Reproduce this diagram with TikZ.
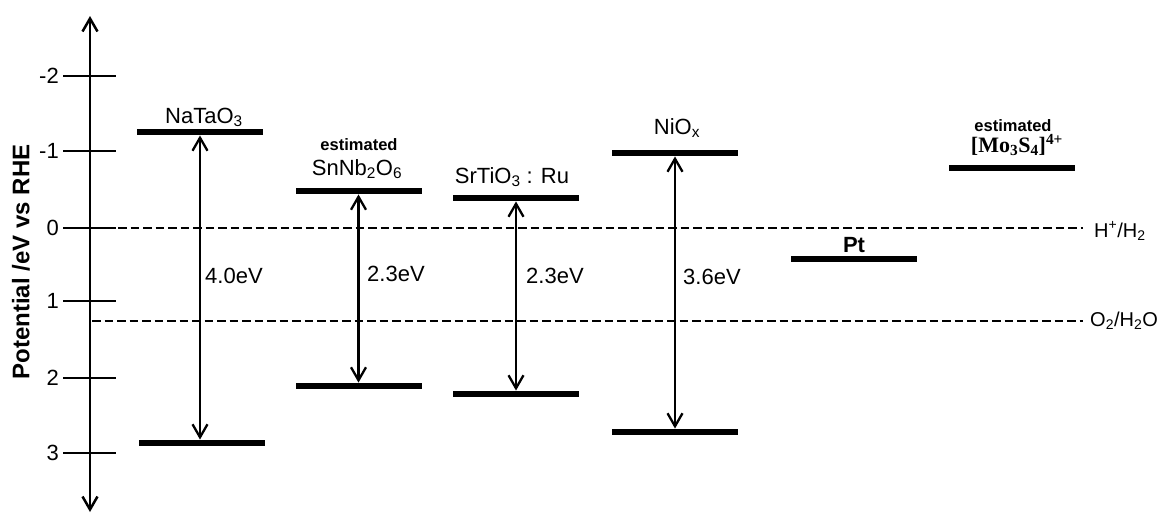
\documentclass[tikz,border=0pt]{standalone}
\usepackage{fontspec}
\setmainfont{Liberation Sans}
\newfontfamily\serifbold{Liberation Serif}
\usetikzlibrary{arrows.meta}
\begin{document}
\begin{tikzpicture}[x=1pt,y=-1pt,
  bar/.style={fill=black,draw=none,minimum width=126pt,minimum height=6.5pt,inner sep=0pt},
  axline/.style={line width=2.5pt},
  bothtips/.style={line width=2.3pt,{Straight Barb[length=13pt,width=15pt]}-{Straight Barb[length=13pt,width=15pt]}},
  lvl/.style={line width=2.3pt,dash pattern=on 8.5pt off 4pt},
  ticklab/.style={anchor=east,font=\fontsize{22}{24}\selectfont,inner sep=0pt},
  mat/.style={anchor=base,font=\fontsize{22}{24}\selectfont,inner sep=0pt},
  est/.style={font=\bfseries\fontsize{16.5}{18}\selectfont,inner sep=0pt},
  evlab/.style={anchor=base west,font=\fontsize{22}{24}\selectfont,inner sep=0pt},
  reflab/.style={anchor=west,font=\fontsize{20}{22}\selectfont,inner sep=0pt},
]
\useasboundingbox (0,0) rectangle (1163,515);

% axis
\coordinate (axT) at (90,16);
\coordinate (axB) at (90,512);
\draw[bothtips,line width=2.5pt] (axB) -- (axT);

% ticks
\foreach \v/\y in {-2/76,-1/151,0/228,1/301,2/378,3/453}{
  \coordinate (tl\v) at (63,\y);
  \coordinate (tr\v) at (116,\y);
  \draw[axline] (tl\v) -- (tr\v);
  \node[ticklab] (lab\v) at (59,\y) {\v};
}

% axis title
\node[rotate=90,font=\bfseries\fontsize{24}{26}\selectfont,inner sep=0pt] (ylab) at (21,262) {Potential /eV vs RHE};

% reference levels
\coordinate (hL) at (118,228);
\coordinate (hR) at (1083,228);
\draw[lvl] (hL) -- (hR);
\node[reflab] (hlab) at (1094,231) {H\textsuperscript{+}/H\textsubscript{2}};

\coordinate (oL) at (92,321);
\coordinate (oR) at (1083,321);
\draw[lvl] (oL) -- (oR);
\node[reflab] (olab) at (1090,321) {O\textsubscript{2}/H\textsubscript{2}O};

% bands
\node[bar] (naT) at (200,132) {};
\node[bar] (naB) at (202,443) {};
\node[bar] (snT) at (358.5,191) {};
\node[bar] (snB) at (358.5,386) {};
\node[bar] (srT) at (516,198) {};
\node[bar] (srB) at (516,394) {};
\node[bar] (niT) at (675,153) {};
\node[bar] (niB) at (675,432) {};
\node[bar] (pt) at (854,259) {};
\node[bar] (mo) at (1012,168) {};

% gap arrows
\draw[bothtips] (naT.south) -- (naT.south |- naB.north);
\draw[bothtips] (snT.south) -- (snT.south |- snB.north);
\draw[bothtips] (srT.south) -- (srT.south |- srB.north);
\draw[bothtips] (niT.south) -- (niT.south |- niB.north);

% gap labels
\node[evlab] (naev) at (205,283) {4.0eV};
\node[evlab] (snev) at (367,281) {2.3eV};
\node[evlab] (srev) at (526,283) {2.3eV};
\node[evlab] (niev) at (683,284) {3.6eV};

% material labels
\node[mat] (nalab) at (204,123) {NaTaO\textsubscript{3}};
\node[est] (snest) at (359,145) {estimated};
\node[mat] (snlab) at (357,175) {SnNb\textsubscript{2}O\textsubscript{6}};
\node[mat] (srlab) at (512,183) {SrTiO\textsubscript{3} : Ru};
\node[mat] (nilab) at (677,134) {NiO\textsubscript{x}};
\node[mat,font=\bfseries\fontsize{22}{24}\selectfont] (ptlab) at (854,252) {Pt};
\node[est] (moest) at (1013,126) {estimated};
\node[mat,font=\serifbold\bfseries\fontsize{22}{24}\selectfont] (molab) at (1017,152) {[Mo\textsubscript{3}S\textsubscript{4}]\textsuperscript{4+}};
\end{tikzpicture}
\end{document}
